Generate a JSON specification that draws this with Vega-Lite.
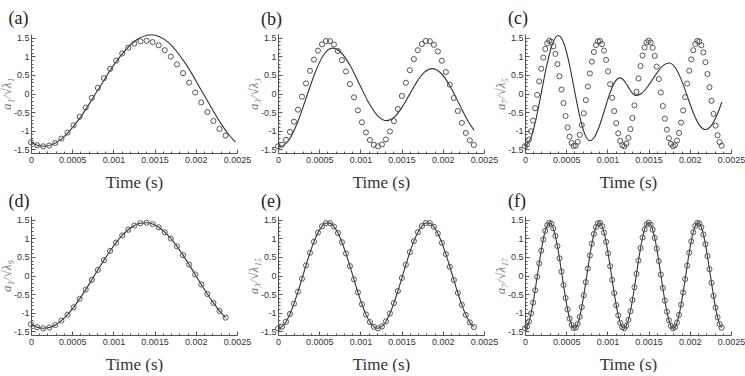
{
"$schema":"https://vega.github.io/schema/vega-lite/v6.json",
"padding":{"left":0,"top":9,"right":0,"bottom":0},
"datasets":{
"pts":[
{"m":1,"t":0,"v":-1.31},{"m":1,"t":0.0000738,"v":-1.39},{"m":1,"t":0.0001476,"v":-1.42},{"m":1,"t":0.0002214,"v":-1.4},{"m":1,"t":0.0002952,"v":-1.33},{"m":1,"t":0.000369,"v":-1.213},{"m":1,"t":0.0004428,"v":-1.053},{"m":1,"t":0.0005166,"v":-0.856},{"m":1,"t":0.0005904,"v":-0.629},{"m":1,"t":0.0006642,"v":-0.379},{"m":1,"t":0.000738,"v":-0.116},{"m":1,"t":0.0008118,"v":0.151},{"m":1,"t":0.0008856,"v":0.413},{"m":1,"t":0.0009594,"v":0.66},{"m":1,"t":0.0010332,"v":0.884},{"m":1,"t":0.001107,"v":1.077},{"m":1,"t":0.0011808,"v":1.231},{"m":1,"t":0.0012546,"v":1.342},{"m":1,"t":0.0013284,"v":1.405},{"m":1,"t":0.0014022,"v":1.419},{"m":1,"t":0.001476,"v":1.382},{"m":1,"t":0.0015498,"v":1.296},{"m":1,"t":0.0016236,"v":1.164},{"m":1,"t":0.0016974,"v":0.991},{"m":1,"t":0.0017712,"v":0.784},{"m":1,"t":0.001845,"v":0.548},{"m":1,"t":0.0019188,"v":0.292},{"m":1,"t":0.0019926,"v":0.027},{"m":1,"t":0.0020664,"v":-0.24},{"m":1,"t":0.0021402,"v":-0.498},{"m":1,"t":0.002214,"v":-0.738},{"m":1,"t":0.0022878,"v":-0.952},{"m":1,"t":0.0023616,"v":-1.133},
{"m":3,"t":0,"v":-1.42},{"m":3,"t":0.0000485,"v":-1.375},{"m":3,"t":0.000097,"v":-1.244},{"m":3,"t":0.0001455,"v":-1.034},{"m":3,"t":0.000194,"v":-0.758},{"m":3,"t":0.0002425,"v":-0.435},{"m":3,"t":0.000291,"v":-0.085},{"m":3,"t":0.0003395,"v":0.271},{"m":3,"t":0.000388,"v":0.61},{"m":3,"t":0.0004365,"v":0.91},{"m":3,"t":0.000485,"v":1.153},{"m":3,"t":0.0005335,"v":1.323},{"m":3,"t":0.000582,"v":1.41},{"m":3,"t":0.0006305,"v":1.408},{"m":3,"t":0.000679,"v":1.316},{"m":3,"t":0.0007275,"v":1.142},{"m":3,"t":0.000776,"v":0.896},{"m":3,"t":0.0008245,"v":0.593},{"m":3,"t":0.000873,"v":0.253},{"m":3,"t":0.0009215,"v":-0.103},{"m":3,"t":0.00097,"v":-0.453},{"m":3,"t":0.0010185,"v":-0.774},{"m":3,"t":0.001067,"v":-1.046},{"m":3,"t":0.0011155,"v":-1.252},{"m":3,"t":0.001164,"v":-1.38},{"m":3,"t":0.0012125,"v":-1.42},{"m":3,"t":0.001261,"v":-1.37},{"m":3,"t":0.0013095,"v":-1.235},{"m":3,"t":0.001358,"v":-1.021},{"m":3,"t":0.0014065,"v":-0.742},{"m":3,"t":0.001455,"v":-0.417},{"m":3,"t":0.0015035,"v":-0.066},{"m":3,"t":0.001552,"v":0.289},{"m":3,"t":0.0016005,"v":0.627},{"m":3,"t":0.001649,"v":0.925},{"m":3,"t":0.0016975,"v":1.164},{"m":3,"t":0.001746,"v":1.33},{"m":3,"t":0.0017945,"v":1.412},{"m":3,"t":0.001843,"v":1.405},{"m":3,"t":0.0018915,"v":1.309},{"m":3,"t":0.00194,"v":1.131},{"m":3,"t":0.0019885,"v":0.881},{"m":3,"t":0.002037,"v":0.576},{"m":3,"t":0.0020855,"v":0.235},{"m":3,"t":0.002134,"v":-0.122},{"m":3,"t":0.0021825,"v":-0.47},{"m":3,"t":0.002231,"v":-0.79},{"m":3,"t":0.0022795,"v":-1.059},{"m":3,"t":0.002328,"v":-1.261},{"m":3,"t":0.0023765,"v":-1.384},
{"m":7,"t":0,"v":-1.42},{"m":7,"t":0.0000246,"v":-1.373},{"m":7,"t":0.0000492,"v":-1.236},{"m":7,"t":0.0000738,"v":-1.017},{"m":7,"t":0.0000984,"v":-0.73},{"m":7,"t":0.000123,"v":-0.396},{"m":7,"t":0.0001476,"v":-0.036},{"m":7,"t":0.0001722,"v":0.327},{"m":7,"t":0.0001968,"v":0.668},{"m":7,"t":0.0002214,"v":0.965},{"m":7,"t":0.000246,"v":1.199},{"m":7,"t":0.0002706,"v":1.353},{"m":7,"t":0.0002952,"v":1.418},{"m":7,"t":0.0003198,"v":1.39},{"m":7,"t":0.0003444,"v":1.269},{"m":7,"t":0.000369,"v":1.065},{"m":7,"t":0.0003936,"v":0.791},{"m":7,"t":0.0004182,"v":0.464},{"m":7,"t":0.0004428,"v":0.107},{"m":7,"t":0.0004674,"v":-0.257},{"m":7,"t":0.000492,"v":-0.605},{"m":7,"t":0.0005166,"v":-0.912},{"m":7,"t":0.0005412,"v":-1.16},{"m":7,"t":0.0005658,"v":-1.33},{"m":7,"t":0.0005904,"v":-1.413},{"m":7,"t":0.000615,"v":-1.403},{"m":7,"t":0.0006396,"v":-1.3},{"m":7,"t":0.0006642,"v":-1.111},{"m":7,"t":0.0006888,"v":-0.849},{"m":7,"t":0.0007134,"v":-0.531},{"m":7,"t":0.000738,"v":-0.178},{"m":7,"t":0.0007626,"v":0.187},{"m":7,"t":0.0007872,"v":0.539},{"m":7,"t":0.0008118,"v":0.856},{"m":7,"t":0.0008364,"v":1.116},{"m":7,"t":0.000861,"v":1.303},{"m":7,"t":0.0008856,"v":1.404},{"m":7,"t":0.0009102,"v":1.412},{"m":7,"t":0.0009348,"v":1.327},{"m":7,"t":0.0009594,"v":1.154},{"m":7,"t":0.000984,"v":0.905},{"m":7,"t":0.0010086,"v":0.596},{"m":7,"t":0.0010332,"v":0.249},{"m":7,"t":0.0010578,"v":-0.116},{"m":7,"t":0.0010824,"v":-0.473},{"m":7,"t":0.001107,"v":-0.798},{"m":7,"t":0.0011316,"v":-1.071},{"m":7,"t":0.0011562,"v":-1.273},{"m":7,"t":0.0011808,"v":-1.391},{"m":7,"t":0.0012054,"v":-1.418},{"m":7,"t":0.00123,"v":-1.351},{"m":7,"t":0.0012546,"v":-1.194},{"m":7,"t":0.0012792,"v":-0.959},{"m":7,"t":0.0013038,"v":-0.66},{"m":7,"t":0.0013284,"v":-0.318},{"m":7,"t":0.001353,"v":0.045},{"m":7,"t":0.0013776,"v":0.405},{"m":7,"t":0.0014022,"v":0.738},{"m":7,"t":0.0014268,"v":1.022},{"m":7,"t":0.0014514,"v":1.24},{"m":7,"t":0.001476,"v":1.375},{"m":7,"t":0.0015006,"v":1.42},{"m":7,"t":0.0015252,"v":1.371},{"m":7,"t":0.0015498,"v":1.231},{"m":7,"t":0.0015744,"v":1.01},{"m":7,"t":0.001599,"v":0.723},{"m":7,"t":0.0016236,"v":0.388},{"m":7,"t":0.0016482,"v":0.027},{"m":7,"t":0.0016728,"v":-0.336},{"m":7,"t":0.0016974,"v":-0.676},{"m":7,"t":0.001722,"v":-0.972},{"m":7,"t":0.0017466,"v":-1.204},{"m":7,"t":0.0017712,"v":-1.356},{"m":7,"t":0.0017958,"v":-1.419},{"m":7,"t":0.0018204,"v":-1.388},{"m":7,"t":0.001845,"v":-1.265},{"m":7,"t":0.0018696,"v":-1.059},{"m":7,"t":0.0018942,"v":-0.783},{"m":7,"t":0.0019188,"v":-0.456},{"m":7,"t":0.0019434,"v":-0.098},{"m":7,"t":0.001968,"v":0.266},{"m":7,"t":0.0019926,"v":0.613},{"m":7,"t":0.0020172,"v":0.918},{"m":7,"t":0.0020418,"v":1.164},{"m":7,"t":0.0020664,"v":1.333},{"m":7,"t":0.002091,"v":1.414},{"m":7,"t":0.0021156,"v":1.401},{"m":7,"t":0.0021402,"v":1.296},{"m":7,"t":0.0021648,"v":1.105},{"m":7,"t":0.0021894,"v":0.842},{"m":7,"t":0.002214,"v":0.523},{"m":7,"t":0.0022386,"v":0.169},{"m":7,"t":0.0022632,"v":-0.196},{"m":7,"t":0.0022878,"v":-0.548},{"m":7,"t":0.0023124,"v":-0.864},{"m":7,"t":0.002337,"v":-1.122},{"m":7,"t":0.0023616,"v":-1.307},{"m":7,"t":0.0023862,"v":-1.405}
],
"ln":[
{"p":"a","t":0,"v":-1.31},{"p":"a","t":0.0000738,"v":-1.39},{"p":"a","t":0.000155,"v":-1.42},{"p":"a","t":0.0003725,"v":-1.219},{"p":"a","t":0.00059,"v":-0.67},{"p":"a","t":0.0008075,"v":0.08},{"p":"a","t":0.001025,"v":0.83},{"p":"a","t":0.0012425,"v":1.379},{"p":"a","t":0.00146,"v":1.58},{"p":"a","t":0.00167,"v":1.368},{"p":"a","t":0.00188,"v":0.79},{"p":"a","t":0.00209,"v":0},{"p":"a","t":0.0023,"v":-0.79},{"p":"a","t":0.00239,"v":-1.076},{"p":"a","t":0.00248,"v":-1.305},
{"p":"b","t":0,"v":-1.41},{"p":"b","t":0.00003,"v":-1.42},{"p":"b","t":0.000135,"v":-1.243},{"p":"b","t":0.00024,"v":-0.76},{"p":"b","t":0.000345,"v":-0.1},{"p":"b","t":0.00045,"v":0.56},{"p":"b","t":0.000555,"v":1.043},{"p":"b","t":0.00066,"v":1.22},{"p":"b","t":0.00077,"v":1.089},{"p":"b","t":0.00088,"v":0.733},{"p":"b","t":0.00099,"v":0.245},{"p":"b","t":0.0011,"v":-0.243},{"p":"b","t":0.00121,"v":-0.599},{"p":"b","t":0.00132,"v":-0.73},{"p":"b","t":0.0014117,"v":-0.636},{"p":"b","t":0.0015033,"v":-0.38},{"p":"b","t":0.001595,"v":-0.03},{"p":"b","t":0.0016867,"v":0.32},{"p":"b","t":0.0017783,"v":0.576},{"p":"b","t":0.00187,"v":0.67},{"p":"b","t":0.0019783,"v":0.545},{"p":"b","t":0.0020867,"v":0.203},{"p":"b","t":0.002195,"v":-0.265},{"p":"b","t":0.0023033,"v":-0.733},{"p":"b","t":0.00238,"v":-0.993},
{"p":"c","t":0,"v":-1.42},{"p":"c","t":0.0000675,"v":-1.22},{"p":"c","t":0.000135,"v":-0.675},{"p":"c","t":0.0002025,"v":0.07},{"p":"c","t":0.00027,"v":0.815},{"p":"c","t":0.0003375,"v":1.36},{"p":"c","t":0.000405,"v":1.56},{"p":"c","t":0.0004685,"v":1.37},{"p":"c","t":0.000532,"v":0.853},{"p":"c","t":0.0005955,"v":0.145},{"p":"c","t":0.000659,"v":-0.563},{"p":"c","t":0.0007225,"v":-1.08},{"p":"c","t":0.000786,"v":-1.27},{"p":"c","t":0.0008467,"v":-1.157},{"p":"c","t":0.0009073,"v":-0.848},{"p":"c","t":0.000968,"v":-0.425},{"p":"c","t":0.0010287,"v":-0.003},{"p":"c","t":0.0010893,"v":0.307},{"p":"c","t":0.00115,"v":0.42},{"p":"c","t":0.0011833,"v":0.389},{"p":"c","t":0.0012167,"v":0.303},{"p":"c","t":0.00125,"v":0.185},{"p":"c","t":0.0012833,"v":0.068},{"p":"c","t":0.0013167,"v":-0.019},{"p":"c","t":0.00135,"v":-0.05},{"p":"c","t":0.0014167,"v":0.008},{"p":"c","t":0.0014833,"v":0.168},{"p":"c","t":0.00155,"v":0.385},{"p":"c","t":0.0016167,"v":0.603},{"p":"c","t":0.0016833,"v":0.762},{"p":"c","t":0.00175,"v":0.82},{"p":"c","t":0.0018233,"v":0.7},{"p":"c","t":0.0018967,"v":0.373},{"p":"c","t":0.00197,"v":-0.075},{"p":"c","t":0.0020433,"v":-0.523},{"p":"c","t":0.0021167,"v":-0.85},{"p":"c","t":0.00219,"v":-0.97},{"p":"c","t":0.0022667,"v":-0.845},{"p":"c","t":0.0023433,"v":-0.503},{"p":"c","t":0.00239,"v":-0.225}
]
},
"concat":[
{"title":{"text":"(a)","frame":"bounds","dx":8},"width":206,"height":119,"resolve":{"axis":{"x":"independent","y":"independent"}},"layer":[
 {"data":{"name":"ln"},"transform":[{"filter":"datum.p == 'a'"}],"mark":{"type":"line","color":"#333","strokeWidth":1.1,"interpolate":"monotone"},
  "encoding":{"x":{"field":"t","type":"quantitative","scale":{"domain":[0,0.0025],"nice":false},"axis":{"title":"Time (s)","orient":"bottom","values":[0,0.0005,0.001,0.0015,0.002,0.0025],"labelExpr":"'' + datum.value","tickSize":-4}},
   "y":{"field":"v","type":"quantitative","scale":{"domain":[-1.6,1.6],"nice":false},"axis":{"title":"a₁/√λ₁","orient":"left","values":[-1.5,-1,-0.5,0,0.5,1,1.5],"labelExpr":"'' + datum.value","tickSize":-4}}}},
 {"data":{"name":"pts"},"transform":[{"filter":"datum.m == 1"}],"mark":{"type":"point","shape":"circle","filled":false,"size":26,"stroke":"#555","strokeWidth":1,"opacity":1},
  "encoding":{"x":{"field":"t","type":"quantitative","scale":{"domain":[0,0.0025],"nice":false},"axis":{"title":null,"orient":"bottom","values":[0.0001,0.0002,0.0003,0.0004,0.0006,0.0007,0.0008,0.0009,0.0011,0.0012,0.0013,0.0014,0.0016,0.0017,0.0018,0.0019,0.0021,0.0022,0.0023,0.0024],"labels":false,"domain":false,"tickSize":-2}},
   "y":{"field":"v","type":"quantitative","scale":{"domain":[-1.6,1.6],"nice":false},"axis":{"title":null,"orient":"left","values":[-1.4,-1.3,-1.2,-1.1,-0.9,-0.8,-0.7,-0.6,-0.4,-0.3,-0.2,-0.1,0.1,0.2,0.3,0.4,0.6,0.7,0.8,0.9,1.1,1.2,1.3,1.4],"labels":false,"domain":false,"tickSize":-2}}}}
]},
{"title":"(b)","width":206,"height":119,"resolve":{"axis":{"x":"independent","y":"independent"}},"layer":[
 {"data":{"name":"ln"},"transform":[{"filter":"datum.p == 'b'"}],"mark":{"type":"line","color":"#333","strokeWidth":1.1,"interpolate":"monotone"},
  "encoding":{"x":{"field":"t","type":"quantitative","scale":{"domain":[0,0.0025],"nice":false},"axis":{"title":"Time (s)","orient":"bottom","values":[0,0.0005,0.001,0.0015,0.002,0.0025],"labelExpr":"'' + datum.value","tickSize":-4}},
   "y":{"field":"v","type":"quantitative","scale":{"domain":[-1.6,1.6],"nice":false},"axis":{"title":"a₃/√λ₃","orient":"left","values":[-1.5,-1,-0.5,0,0.5,1,1.5],"labelExpr":"'' + datum.value","tickSize":-4}}}},
 {"data":{"name":"pts"},"transform":[{"filter":"datum.m == 3"}],"mark":{"type":"point","shape":"circle","filled":false,"size":26,"stroke":"#555","strokeWidth":1,"opacity":1},
  "encoding":{"x":{"field":"t","type":"quantitative","scale":{"domain":[0,0.0025],"nice":false},"axis":{"title":null,"orient":"bottom","values":[0.0001,0.0002,0.0003,0.0004,0.0006,0.0007,0.0008,0.0009,0.0011,0.0012,0.0013,0.0014,0.0016,0.0017,0.0018,0.0019,0.0021,0.0022,0.0023,0.0024],"labels":false,"domain":false,"tickSize":-2}},
   "y":{"field":"v","type":"quantitative","scale":{"domain":[-1.6,1.6],"nice":false},"axis":{"title":null,"orient":"left","values":[-1.4,-1.3,-1.2,-1.1,-0.9,-0.8,-0.7,-0.6,-0.4,-0.3,-0.2,-0.1,0.1,0.2,0.3,0.4,0.6,0.7,0.8,0.9,1.1,1.2,1.3,1.4],"labels":false,"domain":false,"tickSize":-2}}}}
]},
{"title":"(c)","width":206,"height":119,"resolve":{"axis":{"x":"independent","y":"independent"}},"layer":[
 {"data":{"name":"ln"},"transform":[{"filter":"datum.p == 'c'"}],"mark":{"type":"line","color":"#333","strokeWidth":1.1,"interpolate":"monotone"},
  "encoding":{"x":{"field":"t","type":"quantitative","scale":{"domain":[0,0.0025],"nice":false},"axis":{"title":"Time (s)","orient":"bottom","values":[0,0.0005,0.001,0.0015,0.002,0.0025],"labelExpr":"'' + datum.value","tickSize":-4}},
   "y":{"field":"v","type":"quantitative","scale":{"domain":[-1.6,1.6],"nice":false},"axis":{"title":"a₇/√λ₅","orient":"left","values":[-1.5,-1,-0.5,0,0.5,1,1.5],"labelExpr":"'' + datum.value","tickSize":-4}}}},
 {"data":{"name":"pts"},"transform":[{"filter":"datum.m == 7"}],"mark":{"type":"point","shape":"circle","filled":false,"size":26,"stroke":"#555","strokeWidth":1,"opacity":1},
  "encoding":{"x":{"field":"t","type":"quantitative","scale":{"domain":[0,0.0025],"nice":false},"axis":{"title":null,"orient":"bottom","values":[0.0001,0.0002,0.0003,0.0004,0.0006,0.0007,0.0008,0.0009,0.0011,0.0012,0.0013,0.0014,0.0016,0.0017,0.0018,0.0019,0.0021,0.0022,0.0023,0.0024],"labels":false,"domain":false,"tickSize":-2}},
   "y":{"field":"v","type":"quantitative","scale":{"domain":[-1.6,1.6],"nice":false},"axis":{"title":null,"orient":"left","values":[-1.4,-1.3,-1.2,-1.1,-0.9,-0.8,-0.7,-0.6,-0.4,-0.3,-0.2,-0.1,0.1,0.2,0.3,0.4,0.6,0.7,0.8,0.9,1.1,1.2,1.3,1.4],"labels":false,"domain":false,"tickSize":-2}}}}
]},
{"title":{"text":"(d)","frame":"bounds","dx":8},"width":206,"height":119,"resolve":{"axis":{"x":"independent","y":"independent"}},"layer":[
 {"data":{"name":"pts"},"transform":[{"filter":"datum.m == 1"}],"mark":{"type":"line","color":"#333","strokeWidth":1.1,"interpolate":"monotone"},
  "encoding":{"x":{"field":"t","type":"quantitative","scale":{"domain":[0,0.0025],"nice":false},"axis":{"title":"Time (s)","orient":"bottom","values":[0,0.0005,0.001,0.0015,0.002,0.0025],"labelExpr":"'' + datum.value","tickSize":-4}},
   "y":{"field":"v","type":"quantitative","scale":{"domain":[-1.6,1.6],"nice":false},"axis":{"title":"a₁/√λ₉","orient":"left","values":[-1.5,-1,-0.5,0,0.5,1,1.5],"labelExpr":"'' + datum.value","tickSize":-4}}}},
 {"data":{"name":"pts"},"transform":[{"filter":"datum.m == 1"}],"mark":{"type":"point","shape":"circle","filled":false,"size":26,"stroke":"#555","strokeWidth":1,"opacity":1},
  "encoding":{"x":{"field":"t","type":"quantitative","scale":{"domain":[0,0.0025],"nice":false},"axis":{"title":null,"orient":"bottom","values":[0.0001,0.0002,0.0003,0.0004,0.0006,0.0007,0.0008,0.0009,0.0011,0.0012,0.0013,0.0014,0.0016,0.0017,0.0018,0.0019,0.0021,0.0022,0.0023,0.0024],"labels":false,"domain":false,"tickSize":-2}},
   "y":{"field":"v","type":"quantitative","scale":{"domain":[-1.6,1.6],"nice":false},"axis":{"title":null,"orient":"left","values":[-1.4,-1.3,-1.2,-1.1,-0.9,-0.8,-0.7,-0.6,-0.4,-0.3,-0.2,-0.1,0.1,0.2,0.3,0.4,0.6,0.7,0.8,0.9,1.1,1.2,1.3,1.4],"labels":false,"domain":false,"tickSize":-2}}}}
]},
{"title":"(e)","width":206,"height":119,"resolve":{"axis":{"x":"independent","y":"independent"}},"layer":[
 {"data":{"name":"pts"},"transform":[{"filter":"datum.m == 3"}],"mark":{"type":"line","color":"#333","strokeWidth":1.1,"interpolate":"monotone"},
  "encoding":{"x":{"field":"t","type":"quantitative","scale":{"domain":[0,0.0025],"nice":false},"axis":{"title":"Time (s)","orient":"bottom","values":[0,0.0005,0.001,0.0015,0.002,0.0025],"labelExpr":"'' + datum.value","tickSize":-4}},
   "y":{"field":"v","type":"quantitative","scale":{"domain":[-1.6,1.6],"nice":false},"axis":{"title":"a₃/√λ₁₅","orient":"left","values":[-1.5,-1,-0.5,0,0.5,1,1.5],"labelExpr":"'' + datum.value","tickSize":-4}}}},
 {"data":{"name":"pts"},"transform":[{"filter":"datum.m == 3"}],"mark":{"type":"point","shape":"circle","filled":false,"size":26,"stroke":"#555","strokeWidth":1,"opacity":1},
  "encoding":{"x":{"field":"t","type":"quantitative","scale":{"domain":[0,0.0025],"nice":false},"axis":{"title":null,"orient":"bottom","values":[0.0001,0.0002,0.0003,0.0004,0.0006,0.0007,0.0008,0.0009,0.0011,0.0012,0.0013,0.0014,0.0016,0.0017,0.0018,0.0019,0.0021,0.0022,0.0023,0.0024],"labels":false,"domain":false,"tickSize":-2}},
   "y":{"field":"v","type":"quantitative","scale":{"domain":[-1.6,1.6],"nice":false},"axis":{"title":null,"orient":"left","values":[-1.4,-1.3,-1.2,-1.1,-0.9,-0.8,-0.7,-0.6,-0.4,-0.3,-0.2,-0.1,0.1,0.2,0.3,0.4,0.6,0.7,0.8,0.9,1.1,1.2,1.3,1.4],"labels":false,"domain":false,"tickSize":-2}}}}
]},
{"title":"(f)","width":206,"height":119,"resolve":{"axis":{"x":"independent","y":"independent"}},"layer":[
 {"data":{"name":"pts"},"transform":[{"filter":"datum.m == 7"}],"mark":{"type":"line","color":"#333","strokeWidth":1.1,"interpolate":"monotone"},
  "encoding":{"x":{"field":"t","type":"quantitative","scale":{"domain":[0,0.0025],"nice":false},"axis":{"title":"Time (s)","orient":"bottom","values":[0,0.0005,0.001,0.0015,0.002,0.0025],"labelExpr":"'' + datum.value","tickSize":-4}},
   "y":{"field":"v","type":"quantitative","scale":{"domain":[-1.6,1.6],"nice":false},"axis":{"title":"a₇/√λ₁₇","orient":"left","values":[-1.5,-1,-0.5,0,0.5,1,1.5],"labelExpr":"'' + datum.value","tickSize":-4}}}},
 {"data":{"name":"pts"},"transform":[{"filter":"datum.m == 7"}],"mark":{"type":"point","shape":"circle","filled":false,"size":26,"stroke":"#555","strokeWidth":1,"opacity":1},
  "encoding":{"x":{"field":"t","type":"quantitative","scale":{"domain":[0,0.0025],"nice":false},"axis":{"title":null,"orient":"bottom","values":[0.0001,0.0002,0.0003,0.0004,0.0006,0.0007,0.0008,0.0009,0.0011,0.0012,0.0013,0.0014,0.0016,0.0017,0.0018,0.0019,0.0021,0.0022,0.0023,0.0024],"labels":false,"domain":false,"tickSize":-2}},
   "y":{"field":"v","type":"quantitative","scale":{"domain":[-1.6,1.6],"nice":false},"axis":{"title":null,"orient":"left","values":[-1.4,-1.3,-1.2,-1.1,-0.9,-0.8,-0.7,-0.6,-0.4,-0.3,-0.2,-0.1,0.1,0.2,0.3,0.4,0.6,0.7,0.8,0.9,1.1,1.2,1.3,1.4],"labels":false,"domain":false,"tickSize":-2}}}}
]}
],
"columns":3,
"spacing":{"row":63,"column":41},
"bounds":"flush",
"config":{
 "view":{"stroke":null},
 "axis":{"grid":false,"domainColor":"#555","tickColor":"#555","labelColor":"#333","labelFont":"Liberation Sans","labelFontSize":9,"labelPadding":6,"labelFlush":false,"labelOverlap":false,"titleFont":"Liberation Serif","titleFontWeight":"normal","titleColor":"#333"},
 "axisX":{"titleFontSize":17,"titlePadding":10},
 "axisY":{"titleFontSize":13,"titleFontStyle":"italic","titleColor":"#777","titlePadding":0},
 "title":{"font":"Liberation Serif","fontSize":18,"fontWeight":"normal","anchor":"start","frame":"group","dx":-17,"offset":5,"color":"#222"}
}
}
